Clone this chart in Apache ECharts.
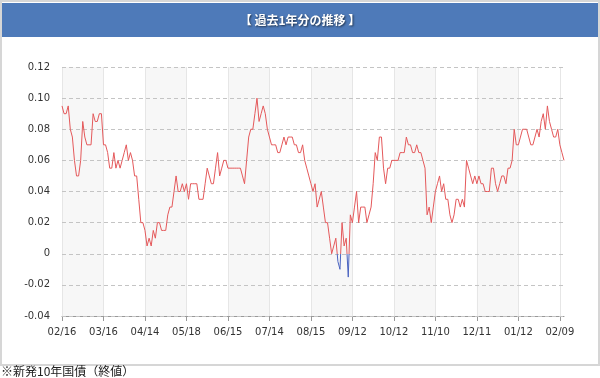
<!DOCTYPE html>
<html>
<head>
<meta charset="utf-8">
<title>過去1年分の推移</title>
<script src="https://cdn.jsdelivr.net/npm/echarts@6/dist/echarts.min.js"></script>
<style>
html, body { margin: 0; padding: 0; background: #fff; }
#Chart { width: 600px; height: 378px; }
</style>
</head>
<body>
<div id="Chart"></div>
<script>
var titleText = '【 過去1年分の推移 】';
var noteText = '※新発10年国債（終値）';

// 目盛りラベル（20営業日ごと）
var tickLabels = ['02/16', '03/16', '04/14', '05/18', '06/15', '07/14', '08/15',
    '09/12', '10/12', '11/10', '12/11', '01/12', '02/09'];
var tickStep = 20;

// 利回り（%）
var yieldValues = [
    0.095, 0.09, 0.09, 0.095, 0.08, 0.075, 0.06, 0.05, 0.05, 0.06,
    0.085, 0.075, 0.07, 0.07, 0.07, 0.09, 0.085, 0.085, 0.09, 0.09,
    0.07, 0.07, 0.065, 0.055, 0.055, 0.065, 0.055, 0.06, 0.055, 0.06,
    0.065, 0.07, 0.06, 0.065, 0.06, 0.05, 0.05, 0.035, 0.02, 0.02,
    0.015, 0.005, 0.01, 0.005, 0.015, 0.01, 0.02, 0.02, 0.015, 0.015,
    0.015, 0.025, 0.03, 0.03, 0.04, 0.05, 0.04, 0.04, 0.045, 0.04,
    0.045, 0.035, 0.045, 0.045, 0.045, 0.045, 0.035, 0.035, 0.035, 0.045,
    0.055, 0.05, 0.045, 0.045, 0.055, 0.065, 0.05, 0.055, 0.06, 0.06,
    0.055, 0.055, 0.055, 0.055, 0.055, 0.055, 0.055, 0.05, 0.045, 0.06,
    0.075, 0.08, 0.08, 0.09, 0.1, 0.085, 0.09, 0.095, 0.09, 0.08,
    0.075, 0.07, 0.07, 0.07, 0.065, 0.065, 0.07, 0.075, 0.07, 0.075,
    0.075, 0.075, 0.07, 0.07, 0.065, 0.065, 0.07, 0.06, 0.055, 0.05,
    0.045, 0.04, 0.045, 0.03, 0.035, 0.04, 0.03, 0.02, 0.02, 0.01,
    0, 0.005, 0.01, -0.005, -0.01, 0.02, 0.005, 0.01, -0.015, 0.025,
    0.02, 0.03, 0.04, 0.02, 0.03, 0.03, 0.03, 0.02, 0.025, 0.03,
    0.045, 0.065, 0.06, 0.075, 0.075, 0.055, 0.045, 0.055, 0.055, 0.06,
    0.06, 0.06, 0.06, 0.065, 0.065, 0.065, 0.075, 0.07, 0.07, 0.065,
    0.065, 0.07, 0.065, 0.065, 0.06, 0.055, 0.025, 0.03, 0.02, 0.03,
    0.04, 0.045, 0.05, 0.04, 0.045, 0.035, 0.035, 0.025, 0.02, 0.025,
    0.035, 0.035, 0.03, 0.035, 0.03, 0.06, 0.055, 0.05, 0.045, 0.05,
    0.045, 0.05, 0.045, 0.045, 0.04, 0.04, 0.04, 0.055, 0.055, 0.045,
    0.04, 0.045, 0.05, 0.05, 0.045, 0.055, 0.055, 0.06, 0.08, 0.07,
    0.07, 0.075, 0.08, 0.08, 0.08, 0.075, 0.07, 0.07, 0.075, 0.08,
    0.075, 0.085, 0.09, 0.08, 0.095, 0.085, 0.08, 0.075, 0.075, 0.08,
    0.07, 0.065, 0.06
];

var yMin = -0.04;
var yMax = 0.12;
var yStep = 0.02;

var labelColor = '#333';
var gridLineColor = '#c4c4c4';

var Chart = function () {
    var categories = yieldValues.map(function (v, i) {
        return i % tickStep === 0 ? tickLabels[i / tickStep] : '';
    });
    var myChart = echarts.init(document.getElementById('Chart'));
    var option = {
        backgroundColor: '#fff',
        animation: false,
        graphic: [
            {
                type: 'rect',
                silent: true,
                shape: { x: 1, y: 1, width: 598, height: 364 },
                style: { fill: 'none', stroke: '#d6d6d6', lineWidth: 2 }
            },
            {
                type: 'rect',
                silent: true,
                shape: { x: 2, y: 3, width: 596, height: 34 },
                style: { fill: '#4e7ab9' }
            },
            {
                type: 'text',
                silent: true,
                x: 300,
                y: 20,
                style: {
                    text: titleText,
                    fill: '#fff',
                    font: 'bold 12px "Noto Sans CJK JP"',
                    align: 'center',
                    verticalAlign: 'middle',
                    textShadowColor: 'rgba(0,0,0,0.6)',
                    textShadowBlur: 2,
                    textShadowOffsetX: 1,
                    textShadowOffsetY: 1
                }
            },
            {
                type: 'text',
                silent: true,
                x: 1,
                y: 371,
                style: {
                    text: noteText,
                    fill: '#222',
                    font: '12px "Noto Sans CJK JP"',
                    align: 'left',
                    verticalAlign: 'middle'
                }
            }
        ],
        grid: {
            left: 62,
            right: 36,
            top: 67,
            bottom: 62
        },
        // 0未満は青
        visualMap: {
            show: false,
            seriesIndex: 0,
            dimension: 1,
            pieces: [
                { gte: -1, lt: 0, color: '#4a63c0' },
                { gte: 0, lte: 1, color: '#e4585a' }
            ]
        },
        xAxis: {
            type: 'category',
            boundaryGap: false,
            data: categories,
            axisLine: {
                show: true,
                onZero: false,
                lineStyle: { color: '#999', width: 1 }
            },
            axisTick: {
                show: true,
                interval: tickStep - 1,
                length: 5,
                lineStyle: { color: '#999' }
            },
            axisLabel: {
                interval: tickStep - 1,
                color: labelColor,
                fontFamily: 'DejaVu Sans',
                fontSize: 10,
                margin: 11
            },
            splitLine: {
                show: true,
                lineStyle: { color: '#e6e6e6' }
            },
            splitArea: {
                show: true,
                areaStyle: { color: ['rgba(0,0,0,0.03)', 'rgba(255,255,255,0)'] }
            }
        },
        yAxis: {
            type: 'value',
            z: 1,
            min: yMin,
            max: yMax,
            interval: yStep,
            axisLine: { show: false },
            axisTick: { show: false },
            axisLabel: {
                color: labelColor,
                fontFamily: 'DejaVu Sans',
                fontSize: 10,
                margin: 12,
                formatter: function (v) {
                    return Math.abs(v) < 1e-9 ? '0' : v.toFixed(2);
                }
            },
            splitLine: {
                show: true,
                lineStyle: { color: gridLineColor, type: [4, 3] }
            }
        },
        series: [
            {
                name: '新発10年国債',
                type: 'line',
                z: 3,
                symbol: 'none',
                lineStyle: { width: 1 },
                data: yieldValues
            }
        ]
    };
    myChart.setOption(option);
};

Chart();
</script>
</body>
</html>
